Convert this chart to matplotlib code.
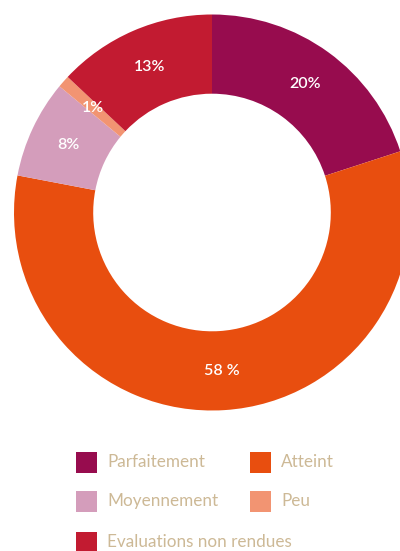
import matplotlib
matplotlib.use("Agg")
import matplotlib.pyplot as plt
from matplotlib.patches import Rectangle

categories = ["Parfaitement", "Atteint", "Moyennement", "Peu", "Evaluations non rendues"]
values = [20, 58, 8, 1, 13]
value_labels = ["20%", "58 %", "8%", "1%", "13%"]
colors = ["#970C4E", "#E84E0F", "#D49DBB", "#F29472", "#C21B31"]

W, H = 400, 551
fig = plt.figure(figsize=(W / 100, H / 100), dpi=100)
ax = fig.add_axes([0, 0, 1, 1])

cx, cy, R = 212, H - 212.5, 198
wedges, texts = ax.pie(
    values, labels=value_labels, colors=colors, startangle=90, counterclock=False,
    center=(cx, cy), radius=R, labeldistance=0.8, frame=True,
    wedgeprops=dict(width=R * 0.4, linewidth=0),
    textprops=dict(color="white", fontsize=11.5, family="Lato", fontweight="semibold"),
)
for t in texts:
    t.set_ha("center")
    t.set_va("center")
ax.set_xlim(0, W)
ax.set_ylim(0, H)
ax.set_aspect("auto")
ax.axis("off")

# legend (pixel layout)
legend_pos = [(76, 462), (250, 462), (76, 501), (250, 501), (76, 542)]
sq = 21
for (x, y), name, col in zip(legend_pos, categories, colors):
    ax.add_patch(Rectangle((x, H - y - sq / 2), sq, sq, facecolor=col, edgecolor="none", clip_on=False))
    ax.text(x + sq + 10, H - y, name, color="#CDB996", fontsize=12.3, family="Lato",
            ha="left", va="center")

fig.savefig("out.png", dpi=100)
